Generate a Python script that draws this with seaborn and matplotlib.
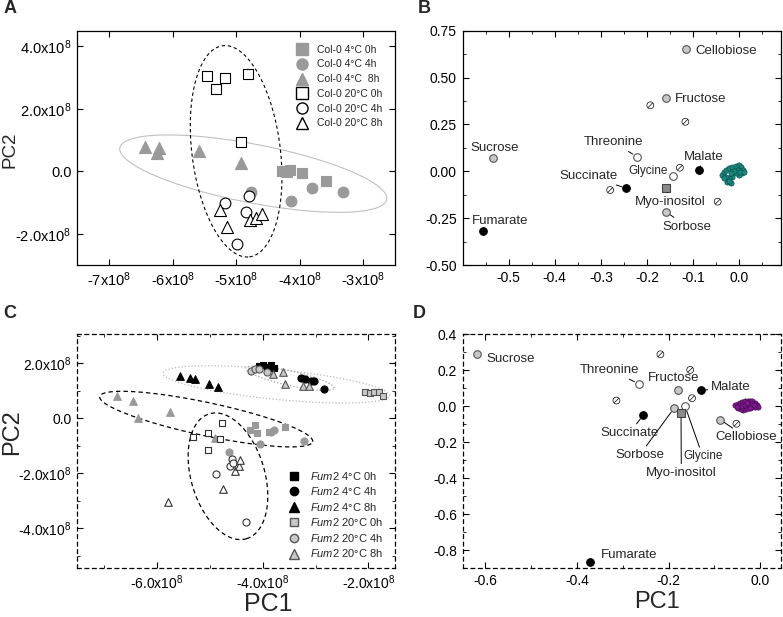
import numpy as np
import matplotlib
matplotlib.use("Agg")
import matplotlib.pyplot as plt
import seaborn as sns
from matplotlib.lines import Line2D
from matplotlib.ticker import FixedLocator, MultipleLocator

sns.set_style("ticks")
plt.rcParams['font.family'] = ['Liberation Sans', 'DejaVu Sans']
plt.rcParams['mathtext.fontset'] = 'custom'
plt.rcParams['mathtext.rm'] = 'Liberation Sans'
plt.rcParams['mathtext.it'] = 'Liberation Sans:italic'
plt.rcParams['mathtext.default'] = 'regular'

E8 = 1e8

# ---------------- Panel A: Col-0 scores (units of 1e8) ----------------
a_4c_0h_x = [-4.28, -4.15, -4.20, -3.97, -3.58]
a_4c_0h_y = [0.02, 0.05, -0.03, -0.05, -0.30]
a_4c_4h_x = [-4.76, -4.14, -3.81, -3.31]
a_4c_4h_y = [-0.66, -0.94, -0.53, -0.67]
a_4c_8h_x = [-6.43, -6.21, -6.25, -5.59, -4.92]
a_4c_8h_y = [0.77, 0.75, 0.57, 0.64, 0.25]
a_20c_0h_x = [-5.46, -5.32, -5.17, -4.82, -4.93]
a_20c_0h_y = [3.04, 2.65, 2.99, 3.13, 0.94]
a_20c_4h_x = [-5.17, -4.80, -4.85, -4.99]
a_20c_4h_y = [-1.01, -0.80, -1.31, -2.33]
a_20c_8h_x = [-5.25, -5.15, -4.78, -4.68, -4.59]
a_20c_8h_y = [-1.25, -1.79, -1.57, -1.49, -1.37]
a_labels = ['Col-0 4°C 0h', 'Col-0 4°C 4h', 'Col-0 4°C  8h',
            'Col-0 20°C 0h', 'Col-0 20°C 4h', 'Col-0 20°C 8h']
# ellipses: center, major half-axis vector, minor half-axis vector
a_ell_dashed = [(-5.00, 0.64), (0.21, -3.38), (0.69, 0.177)]
a_ell_grey = [(-4.73, -0.075), (2.10, -0.83), (0.089, 0.92)]

# ---------------- Panel B: Col-0 loadings ----------------
b_names = ['Cellobiose', 'Fructose', 'Sucrose', 'Sorbose', 'Malate', 'Succinate',
           'Fumarate', 'Threonine', 'Glycine', 'Myo-inositol']
b_x = [-0.116, -0.158, -0.534, -0.158, -0.087, -0.245, -0.556, -0.222, -0.143, -0.158]
b_y = [0.652, 0.392, 0.069, -0.217, 0.007, -0.091, -0.319, 0.078, -0.024, -0.088]
b_other_x = [-0.193, -0.117, -0.129, -0.280, -0.047]
b_other_y = [0.352, 0.264, 0.019, -0.100, -0.162]
b_cluster_x = [-0.037, -0.033, -0.028, -0.022, -0.015, -0.007, 0.000, 0.004, 0.007, 0.006,
               0.000, -0.007, -0.015, -0.022, -0.026, -0.018, -0.029, -0.004, -0.011, -0.018,
               0.001, -0.033, 0.011, -0.022]
b_cluster_y = [-0.020, -0.002, 0.007, 0.016, 0.024, 0.028, 0.033, 0.021, 0.007, -0.011,
               -0.020, -0.011, -0.029, -0.038, -0.056, -0.064, -0.029, 0.007, 0.003, -0.011,
               -0.002, -0.038, -0.002, -0.051]

# ---------------- Panel C: fum2 scores (units of 1e8) ----------------
c_4c_0h_x = [-4.07, -3.99, -3.91, -3.84, -3.78]
c_4c_0h_y = [1.90, 1.94, 1.88, 1.93, 1.82]
c_4c_4h_x = [-3.28, -3.19, -3.09, -3.02, -2.84]
c_4c_4h_y = [1.48, 1.41, 1.36, 1.36, 1.06]
c_4c_8h_x = [-5.56, -5.37, -5.27, -5.02, -4.85]
c_4c_8h_y = [1.55, 1.46, 1.43, 1.25, 1.13]
c_20c_0h_x = [-2.06, -1.97, -1.89, -1.81, -1.73]
c_20c_0h_y = [0.94, 0.91, 0.94, 0.95, 0.82]
c_20c_4h_x = [-4.21, -4.14, -4.07, -3.91]
c_20c_4h_y = [1.72, 1.78, 1.79, 1.67]
c_20c_8h_x = [-3.80, -3.61, -3.58, -3.24, -3.12]
c_20c_8h_y = [1.60, 1.67, 1.25, 1.18, 1.18]
# Col-0 groups shown again in panel C
c_col_4c_0h_x = [-4.15, -4.23, -4.10, -3.88, -3.58]
c_col_4c_0h_y = [-0.26, -0.42, -0.54, -0.50, -0.32]
c_col_4c_4h_x = [-4.05, -3.85, -3.79, -3.22, -4.63]
c_col_4c_4h_y = [-0.93, -0.49, -0.44, -0.81, -1.24]
c_col_4c_8h_x = [-6.75, -6.45, -6.36, -5.75, -4.89]
c_col_4c_8h_y = [0.82, 0.64, 0.01, 0.21, -0.72]
c_col_20c_0h_x = [-5.32, -5.04, -4.80, -4.77, -5.04]
c_col_20c_0h_y = [-0.68, -0.54, -0.75, -0.17, -1.16]
c_col_20c_4h_x = [-4.58, -4.62, -4.55, -4.88, -4.31]
c_col_20c_4h_y = [-1.48, -1.72, -1.62, -2.01, -3.77]
c_col_20c_8h_x = [-5.78, -4.75, -4.52, -4.45, -4.42]
c_col_20c_8h_y = [-3.05, -2.56, -1.92, -1.74, -1.50]
c_labels = [r'$\it{Fum2}$ 4°C 0h', r'$\it{Fum2}$ 4°C 4h', r'$\it{Fum2}$ 4°C 8h',
            r'$\it{Fum2}$ 20°C 0h', r'$\it{Fum2}$ 20°C 4h', r'$\it{Fum2}$ 20°C 8h']
c_ell_dotted_big = [(-3.74, 1.23), (2.14, -0.41), (0.028, 0.54)]
c_ell_dotted_small = [(-3.485, 1.457), (0.834, -0.362), (0.031, 0.26)]
c_ell_dashed_h = [(-5.065, -0.03), (2.01, -0.82), (0.066, 0.59)]
c_ell_dashed_v = [(-4.654, -2.106), (0.348, -2.27), (0.667, 0.372)]

# ---------------- Panel D: fum2 loadings ----------------
d_names = ['Cellobiose', 'Fructose', 'Sucrose', 'Sorbose', 'Malate', 'Succinate',
           'Fumarate', 'Threonine', 'Glycine', 'Myo-inositol']
d_x = [-0.087, -0.180, -0.619, -0.188, -0.129, -0.255, -0.371, -0.265, -0.164, -0.173]
d_y = [-0.075, 0.088, 0.289, -0.010, 0.088, -0.047, -0.864, 0.125, -0.001, -0.038]
d_other_x = [-0.218, -0.153, -0.314, -0.149, -0.052]
d_other_y = [0.289, 0.202, 0.032, 0.045, -0.097]
d_cluster_x = [-0.0552, -0.0494, -0.0443, -0.0392, -0.0334, -0.0276, -0.0225, -0.0174, -0.0116,
               -0.0079, -0.0058, -0.0116, -0.0188, -0.0247, -0.0305, -0.0370, -0.0421, -0.0479,
               -0.0406, -0.0334, -0.0261, -0.0188, -0.0130, -0.0516, -0.0297, -0.0225]
d_cluster_y = [0.0061, 0.0135, 0.0190, 0.0246, 0.0283, 0.0319, 0.0319, 0.0283, 0.0190,
               0.0098, -0.0013, -0.0050, -0.0013, -0.0087, -0.0124, -0.0180, -0.0161, -0.0087,
               0.0005, 0.0061, 0.0098, 0.0135, 0.0061, -0.0013, 0.0190, -0.0087]

# metabolite classes -> marker style
kind = {'Cellobiose': 'sugar', 'Fructose': 'sugar', 'Sucrose': 'sugar', 'Sorbose': 'sugar',
        'Malate': 'acid', 'Succinate': 'acid', 'Fumarate': 'acid',
        'Threonine': 'amino', 'Glycine': 'amino', 'Myo-inositol': 'polyol'}
kind_style = {'sugar': dict(marker='o', color='#c8c8c8', edgecolor='#555555'),
              'acid': dict(marker='o', color='black', edgecolor='black'),
              'amino': dict(marker='o', color='white', edgecolor='#555555'),
              'polyol': dict(marker='s', color='#8a8a8a', edgecolor='#444444')}

# label placement (offset in points, alignment, leader line)
b_lab = {'Cellobiose': ((6.8, -1.2), 'left', False), 'Fructose': ((6, -1), 'left', False),
         'Sucrose': ((1.2, 7.6), 'center', False), 'Threonine': ((-17, 10.4), 'center', True),
         'Glycine': ((-18.2, 3.4), 'center', False), 'Malate': ((3.1, 9.6), 'center', True),
         'Succinate': ((-26.9, 9.1), 'center', True), 'Myo-inositol': ((2.4, -10.1), 'center', True),
         'Sorbose': ((14.4, -10.6), 'center', True), 'Fumarate': ((12.7, 7.4), 'center', False)}
d_lab = {'Sucrose': ((7, -3.6), 'left', False), 'Threonine': ((-21, 10), 'center', True),
         'Fructose': ((-2.9, 8.9), 'center', False), 'Malate': ((7, 2.4), 'left', True),
         'Succinate': ((-10, -13.2), 'center', True), 'Sorbose': ((-25, -34), 'center', True),
         'Myo-inositol': ((0.2, -43), 'center', True), 'Glycine': ((12.7, -36), 'center', True),
         'Cellobiose': ((18.7, -12.7), 'center', True), 'Fumarate': ((7.7, 4.6), 'left', False)}


def draw_ellipse(ax, ell, scale=1.0, **kw):
    (cx, cy), (ax1, ay1), (bx1, by1) = ell
    t = np.linspace(0, 2 * np.pi, 300)
    ex = (cx + ax1 * np.cos(t) + bx1 * np.sin(t)) * scale
    ey = (cy + ay1 * np.cos(t) + by1 * np.sin(t)) * scale
    ax.plot(ex, ey, **kw)


def pts(ax, x, y, marker, color, edge, s, scale=1.0, lw=0.8, z=3):
    sns.scatterplot(x=np.array(x) * scale, y=np.array(y) * scale, ax=ax, marker=marker,
                    color=color, edgecolor=edge, s=s, linewidth=lw, zorder=z, legend=False)


def sci(v, fmt):
    if v == 0:
        return '0.0'
    return (fmt % v) + r'x10$^{8}$'


def loadings(ax, names, xs, ys, ox, oy, cx, cy, ccol, cedge, labs):
    pts(ax, ox, oy, r'$\oslash$', 'black', 'none', 30, lw=0.3)
    pts(ax, cx, cy, 'o', ccol, cedge, 14, lw=0.5)
    for n, x, y in zip(names, xs, ys):
        st = kind_style[kind[n]]
        pts(ax, [x], [y], st['marker'], st['color'], st['edgecolor'], 30 if st['marker'] == 'o' else 26)
        (dx, dy), ha, lead = labs[n]
        fs = 8.5 if n == 'Glycine' else 9.5
        ax.annotate(n, (x, y), xytext=(dx, dy), textcoords='offset points', ha=ha, va='center',
                    fontsize=fs, zorder=5,
                    arrowprops=dict(arrowstyle='-', lw=0.7, color='black', shrinkA=0, shrinkB=3.5)
                    if lead else None)


fig = plt.figure(figsize=(7.83, 6.17), dpi=100)
axA = fig.add_axes([0.0987, 0.5705, 0.4057, 0.3797])
axB = fig.add_axes([0.5907, 0.5705, 0.4066, 0.3797])
axC = fig.add_axes([0.0987, 0.0789, 0.4057, 0.3793])
axD = fig.add_axes([0.5907, 0.0789, 0.4066, 0.3793])

# ---- A ----
grey = '#9a9a9a'
draw_ellipse(axA, a_ell_grey, E8, color='#c0c0c0', lw=0.8, zorder=1)
draw_ellipse(axA, a_ell_dashed, E8, color='black', lw=0.8, ls=(0, (3, 2.5)), zorder=1)
pts(axA, a_4c_0h_x, a_4c_0h_y, 's', grey, grey, 55, E8)
pts(axA, a_4c_4h_x, a_4c_4h_y, 'o', grey, grey, 60, E8)
pts(axA, a_4c_8h_x, a_4c_8h_y, '^', grey, grey, 75, E8)
pts(axA, a_20c_0h_x, a_20c_0h_y, 's', 'white', 'black', 55, E8)
pts(axA, a_20c_4h_x, a_20c_4h_y, 'o', 'white', 'black', 60, E8)
pts(axA, a_20c_8h_x, a_20c_8h_y, '^', 'white', 'black', 75, E8)
axA.set_xlim(-7.5 * E8, -2.5 * E8)
axA.set_ylim(-3 * E8, 4.5 * E8)
xt = [-7, -6, -5, -4, -3]
axA.xaxis.set_major_locator(FixedLocator([v * E8 for v in xt]))
axA.set_xticklabels([sci(v, '%d') for v in xt])
yt = [-2, 0, 2, 4]
axA.yaxis.set_major_locator(FixedLocator([v * E8 for v in yt]))
axA.set_yticklabels([sci(v, '%.1f') for v in yt])
axA.set_ylabel('PC2', fontsize=13.5)
axA.yaxis.set_label_coords(-0.185, 0.49)
mk = [('s', grey, grey), ('o', grey, grey), ('^', grey, grey),
      ('s', 'white', 'black'), ('o', 'white', 'black'), ('^', 'white', 'black')]
hA = [Line2D([], [], ls='none', marker=m, markerfacecolor=f, markeredgecolor=e, markersize=9 if m == '^' else 8)
      for m, f, e in mk]
axA.legend(hA, a_labels, loc='upper right', frameon=False, fontsize=7.5, labelspacing=0.45,
           handletextpad=0.4, borderaxespad=0.5, bbox_to_anchor=(0.99, 0.98))

# ---- B ----
loadings(axB, b_names, b_x, b_y, b_other_x, b_other_y, b_cluster_x, b_cluster_y,
         '#168a80', '#0a4f4a', b_lab)
axB.set_xlim(-0.6, 0.09)
axB.set_ylim(-0.5, 0.75)
axB.xaxis.set_major_locator(FixedLocator([-0.5, -0.4, -0.3, -0.2, -0.1, 0.0]))
axB.xaxis.set_minor_locator(MultipleLocator(0.05))
axB.yaxis.set_major_locator(FixedLocator([-0.5, -0.25, 0, 0.25, 0.5, 0.75]))
axB.yaxis.set_minor_locator(MultipleLocator(0.125))
axB.set_yticklabels(['-0.50', '-0.25', '0.00', '0.25', '0.50', '0.75'])
axB.set_xticklabels(['-0.5', '-0.4', '-0.3', '-0.2', '-0.1', '0.0'])

# ---- C ----
mgrey = '#999999'
lgrey = '#c8c8c8'
draw_ellipse(axC, c_ell_dotted_big, E8, color='#b8b8b8', lw=0.9, ls=':', zorder=1)
draw_ellipse(axC, c_ell_dotted_small, E8, color='#a0a0a0', lw=0.9, ls=':', zorder=1)
draw_ellipse(axC, c_ell_dashed_h, E8, color='black', lw=0.9, ls=(0, (3.5, 2.5)), zorder=1)
draw_ellipse(axC, c_ell_dashed_v, E8, color='black', lw=0.9, ls=(0, (3.5, 2.5)), zorder=1)
pts(axC, c_col_4c_8h_x, c_col_4c_8h_y, '^', mgrey, mgrey, 30, E8)
pts(axC, c_col_4c_0h_x, c_col_4c_0h_y, 's', mgrey, mgrey, 24, E8)
pts(axC, c_col_4c_4h_x, c_col_4c_4h_y, 'o', mgrey, mgrey, 26, E8)
pts(axC, c_col_20c_0h_x, c_col_20c_0h_y, 's', 'white', '#333333', 24, E8)
pts(axC, c_col_20c_4h_x, c_col_20c_4h_y, 'o', 'white', '#333333', 26, E8)
pts(axC, c_col_20c_8h_x, c_col_20c_8h_y, '^', 'white', '#333333', 30, E8)
pts(axC, c_4c_0h_x, c_4c_0h_y, 's', 'black', 'black', 24, E8)
pts(axC, c_20c_4h_x, c_20c_4h_y, 'o', lgrey, '#555555', 26, E8)
pts(axC, c_4c_4h_x, c_4c_4h_y, 'o', 'black', 'black', 26, E8)
pts(axC, c_4c_8h_x, c_4c_8h_y, '^', 'black', 'black', 30, E8)
pts(axC, c_20c_0h_x, c_20c_0h_y, 's', lgrey, '#555555', 24, E8)
pts(axC, c_20c_8h_x, c_20c_8h_y, '^', lgrey, '#555555', 30, E8)
axC.set_xlim(-7.5 * E8, -1.5 * E8)
axC.set_ylim(-5.45 * E8, 3.05 * E8)
xt = [-6, -4, -2]
axC.xaxis.set_major_locator(FixedLocator([v * E8 for v in xt]))
axC.xaxis.set_minor_locator(MultipleLocator(1 * E8))
axC.set_xticklabels([sci(v, '%.1f') for v in xt])
yt = [-4, -2, 0, 2]
axC.yaxis.set_major_locator(FixedLocator([v * E8 for v in yt]))
axC.yaxis.set_minor_locator(MultipleLocator(1 * E8))
axC.set_yticklabels([sci(v, '%.1f') for v in yt])
axC.set_ylabel('PC2', fontsize=17)
axC.yaxis.set_label_coords(-0.172, 0.58)
axC.set_xlabel('PC1', fontsize=18)
axC.xaxis.set_label_coords(0.6, -0.1)
mk = [('s', 'black', 'black'), ('o', 'black', 'black'), ('^', 'black', 'black'),
      ('s', lgrey, '#555555'), ('o', lgrey, '#555555'), ('^', lgrey, '#555555')]
hC = [Line2D([], [], ls='none', marker=m, markerfacecolor=f, markeredgecolor=e, markersize=7 if m == '^' else 6)
      for m, f, e in mk]
axC.legend(hC, c_labels, loc='lower right', frameon=False, fontsize=8, labelspacing=0.32,
           handletextpad=0.4, borderaxespad=0.4, bbox_to_anchor=(0.99, 0.0))

# ---- D ----
loadings(axD, d_names, d_x, d_y, d_other_x, d_other_y, d_cluster_x, d_cluster_y,
         '#7d1a8e', '#4a0a55', d_lab)
axD.set_xlim(-0.65, 0.045)
axD.set_ylim(-0.9, 0.4)
axD.xaxis.set_major_locator(FixedLocator([-0.6, -0.4, -0.2, 0.0]))
axD.xaxis.set_minor_locator(MultipleLocator(0.1))
axD.yaxis.set_major_locator(FixedLocator([-0.8, -0.6, -0.4, -0.2, 0.0, 0.2, 0.4]))
axD.yaxis.set_minor_locator(MultipleLocator(0.1))
axD.set_xticklabels(['-0.6', '-0.4', '-0.2', '0.0'])
axD.set_yticklabels(['-0.8', '-0.6', '-0.4', '-0.2', '0.0', '0.2', '0.4'])
axD.set_xlabel('PC1', fontsize=17)
axD.xaxis.set_label_coords(0.61, -0.095)

for ax in (axA, axB, axC, axD):
    ax.tick_params(which='major', direction='in', top=True, right=True, length=4, width=0.8,
                   labelsize=10, pad=4, colors='black')
    ax.tick_params(which='minor', direction='in', top=True, right=True, length=2.5, width=0.7)
    for sp in ax.spines.values():
        sp.set_color('black')
        sp.set_linewidth(0.9)
for ax in (axC, axD):
    for sp in ax.spines.values():
        sp.set_linestyle((0, (3, 3)))
axA.tick_params(labelsize=10.5)

for lab, x, y in [('A', 0.004, 0.972), ('B', 0.534, 0.972), ('C', 0.004, 0.478), ('D', 0.527, 0.478)]:
    fig.text(x, y, lab, fontsize=13, fontweight='bold', va='bottom', ha='left')

fig.savefig('out.png', dpi=100)
